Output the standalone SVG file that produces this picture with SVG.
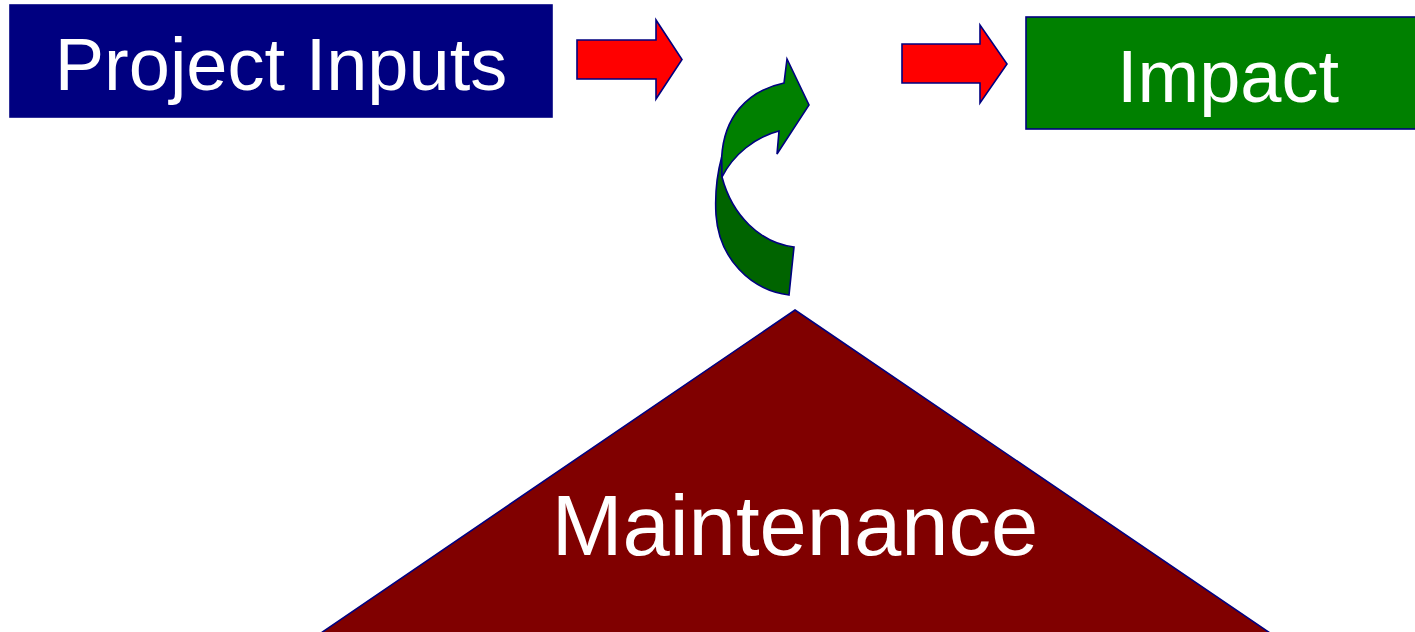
<svg xmlns="http://www.w3.org/2000/svg" width="1415" height="632" viewBox="0 0 1415 632">
  <style>
    .label { font-family: "Liberation Sans", Arial, sans-serif; fill: #ffffff; text-anchor: middle; }
    .edge { stroke: #000080; stroke-width: 1.6; stroke-linejoin: miter; }
    .flow { fill: #ff0000; }
  </style>
  <rect width="1415" height="632" fill="#ffffff"/>

  <!-- Maintenance base -->
  <g id="maintenance">
    <polygon class="edge" points="795,310 1270,633 321,633" fill="#800000"/>
    <text class="label" x="795" y="555" font-size="85">Maintenance</text>
  </g>

  <!-- Project inputs -->
  <g id="project-inputs">
    <rect class="edge" x="10" y="5" width="542" height="112" fill="#000080" stroke-width="1"/>
    <text class="label" x="281" y="90" font-size="74">Project Inputs</text>
  </g>

  <!-- Impact -->
  <g id="impact">
    <rect class="edge" x="1026" y="17" width="404" height="112" fill="#008000"/>
    <text class="label" x="1228" y="102" font-size="74">Impact</text>
  </g>

  <!-- Connectors -->
  <g id="connectors">
    <polygon class="edge flow" points="577,40 656,40 656,20 682,59.5 656,99 656,79 577,79"/>
    <polygon class="edge flow" points="902,44 980,44 980,25 1007,64 980,103 980,83 902,83"/>
    <!-- twisted curved arrow: lower (back) band -->
    <path class="edge" fill="#006400" d="M721.7,157 C716,178 715,198 716,215 C719,258 750,290 789,295 L794,247 C760,243 732,215 722,177 Z"/>
    <!-- upper (front) band with head -->
    <path class="edge" fill="#008000" d="M721.7,157 C724,118 746,91 784,83 L787,59 L809,105 L777,154 L779,131 C755,137 733,155 722,177 Z"/>
  </g>
</svg>
